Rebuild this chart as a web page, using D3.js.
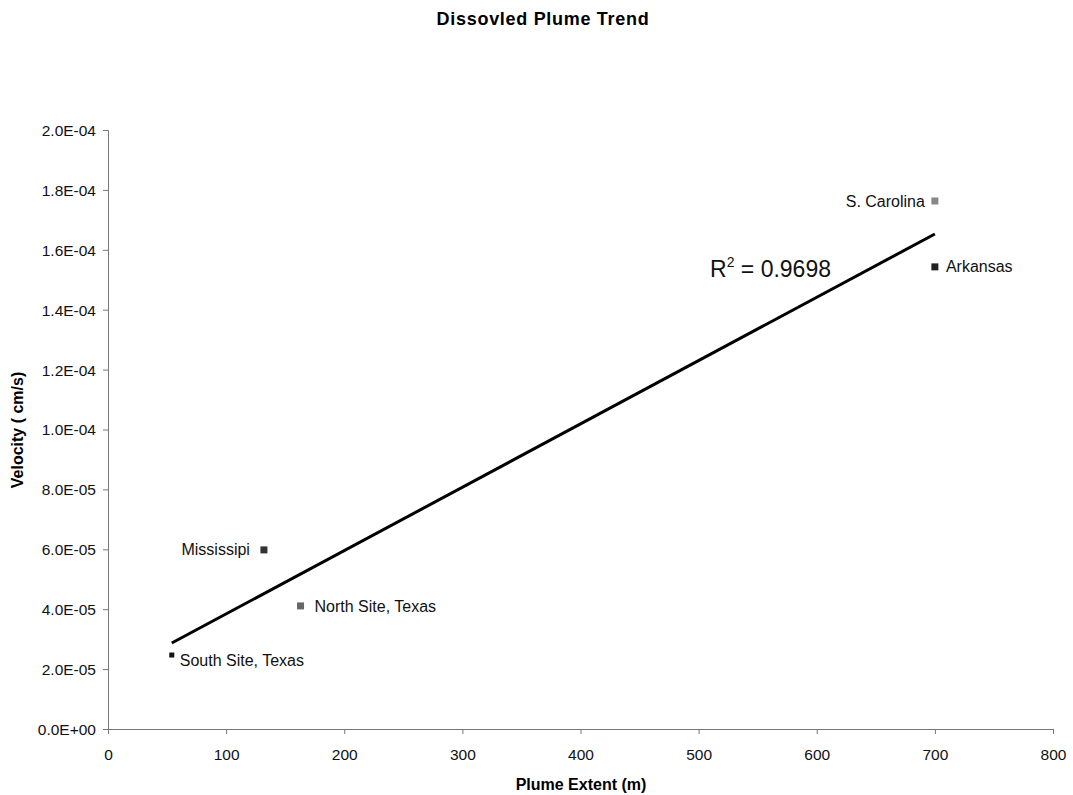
<!DOCTYPE html>
<html><head><meta charset="utf-8">
<script src="https://cdn.jsdelivr.net/npm/d3@7"></script>
<style>body{margin:0;background:#fff}text{font-family:"Liberation Sans",Arial,sans-serif}</style>
</head><body>
<svg id="c" width="1073" height="795"></svg>
<script>
const sites = ["South Site, Texas","Mississipi","North Site, Texas","S. Carolina","Arkansas"];
const extent = [54, 132, 163, 700, 700];
const velocity = [2.47e-5, 5.98e-5, 4.11e-5, 1.763e-4, 1.543e-4];
const markerColors = ["#111","#333","#666","#888","#222"];
const markerSizes = [5,7,7,7,7];
const xTicks = [0,100,200,300,400,500,600,700,800];
const yTicks = [0,2e-5,4e-5,6e-5,8e-5,1e-4,1.2e-4,1.4e-4,1.6e-4,1.8e-4,2e-4];
const rLabel = "0.9698";

const svg = d3.select("#c");
const x = d3.scaleLinear().domain([0,800]).range([108,1053]);
const y = d3.scaleLinear().domain([0,2e-4]).range([729,130]);

svg.append("text").attr("x",543).attr("y",25).attr("text-anchor","middle")
  .attr("font-size",18).attr("letter-spacing",0.7).attr("font-weight","bold").text("Dissovled Plume Trend");

const fmt = v => { if(v===0) return "0.0E+00"; const e=Math.floor(Math.log10(v)+1e-9); const m=v/Math.pow(10,e); return m.toFixed(1)+"E-"+String(-e).padStart(2,"0"); };

const gx = svg.append("g").attr("transform","translate(0,729)")
  .call(d3.axisBottom(x).tickValues(xTicks).tickSize(5).tickFormat(d3.format("d")));
const gy = svg.append("g").attr("transform","translate(108,0)")
  .call(d3.axisLeft(y).tickValues(yTicks).tickSize(5).tickFormat(fmt));
[gx,gy].forEach(g=>{
  g.select(".domain").attr("stroke","#777");
  g.selectAll(".tick line").attr("stroke","#777");
  g.selectAll("text").attr("font-size",15.5).attr("fill","#111").attr("font-family","Liberation Sans, Arial, sans-serif");
});
gx.selectAll("text").attr("y",20).attr("dy","0.71em");
gy.selectAll("text").attr("x",-12).attr("dy","0.35em");

svg.append("text").attr("x",581).attr("y",790).attr("text-anchor","middle")
  .attr("font-size",16).attr("font-weight","bold").text("Plume Extent (m)");
svg.append("text").attr("transform","translate(23,430) rotate(-90)").attr("text-anchor","middle")
  .attr("font-size",16).attr("font-weight","bold").text("Velocity ( cm/s)");

// least squares trend
const n = extent.length, mx = d3.mean(extent), my = d3.mean(velocity);
let sxy=0,sxx=0; for(let i=0;i<n;i++){sxy+=(extent[i]-mx)*(velocity[i]-my);sxx+=(extent[i]-mx)**2;}
const b = sxy/sxx, a = my-b*mx;
const x0 = d3.min(extent), x1 = d3.max(extent);
svg.append("line").attr("x1",x(x0)).attr("y1",y(a+b*x0)).attr("x2",x(x1)).attr("y2",y(a+b*x1))
  .attr("stroke","#000").attr("stroke-width",3);

const pts = sites.map((s,i)=>({s,x:extent[i],v:velocity[i],c:markerColors[i],sz:markerSizes[i]}));
svg.selectAll("rect.m").data(pts).enter().append("rect").attr("class","m")
  .attr("x",d=>x(d.x)-d.sz/2).attr("y",d=>y(d.v)-d.sz/2).attr("width",d=>d.sz).attr("height",d=>d.sz)
  .attr("fill",d=>d.c);

const labelDx = {"South Site, Texas":8,"Mississipi":-14,"North Site, Texas":14,"S. Carolina":-10,"Arkansas":11};
svg.selectAll("text.lbl").data(pts).enter().append("text").attr("class","lbl")
  .attr("x",d=>x(d.x)+labelDx[d.s])
  .attr("y",d=>y(d.v)+(d.s==="South Site, Texas"?5:0)).attr("dy","0.35em")
  .attr("text-anchor",d=>labelDx[d.s]>0?"start":"end")
  .attr("font-size",16).attr("fill","#111").text(d=>d.s);

const rt = svg.append("text").attr("x",710).attr("y",277).attr("font-size",23).attr("fill","#111");
rt.append("tspan").text("R");
rt.append("tspan").attr("font-size",14).attr("dy",-10).text("2");
rt.append("tspan").attr("dy",10).text(" = "+rLabel);
</script>
</body></html>
